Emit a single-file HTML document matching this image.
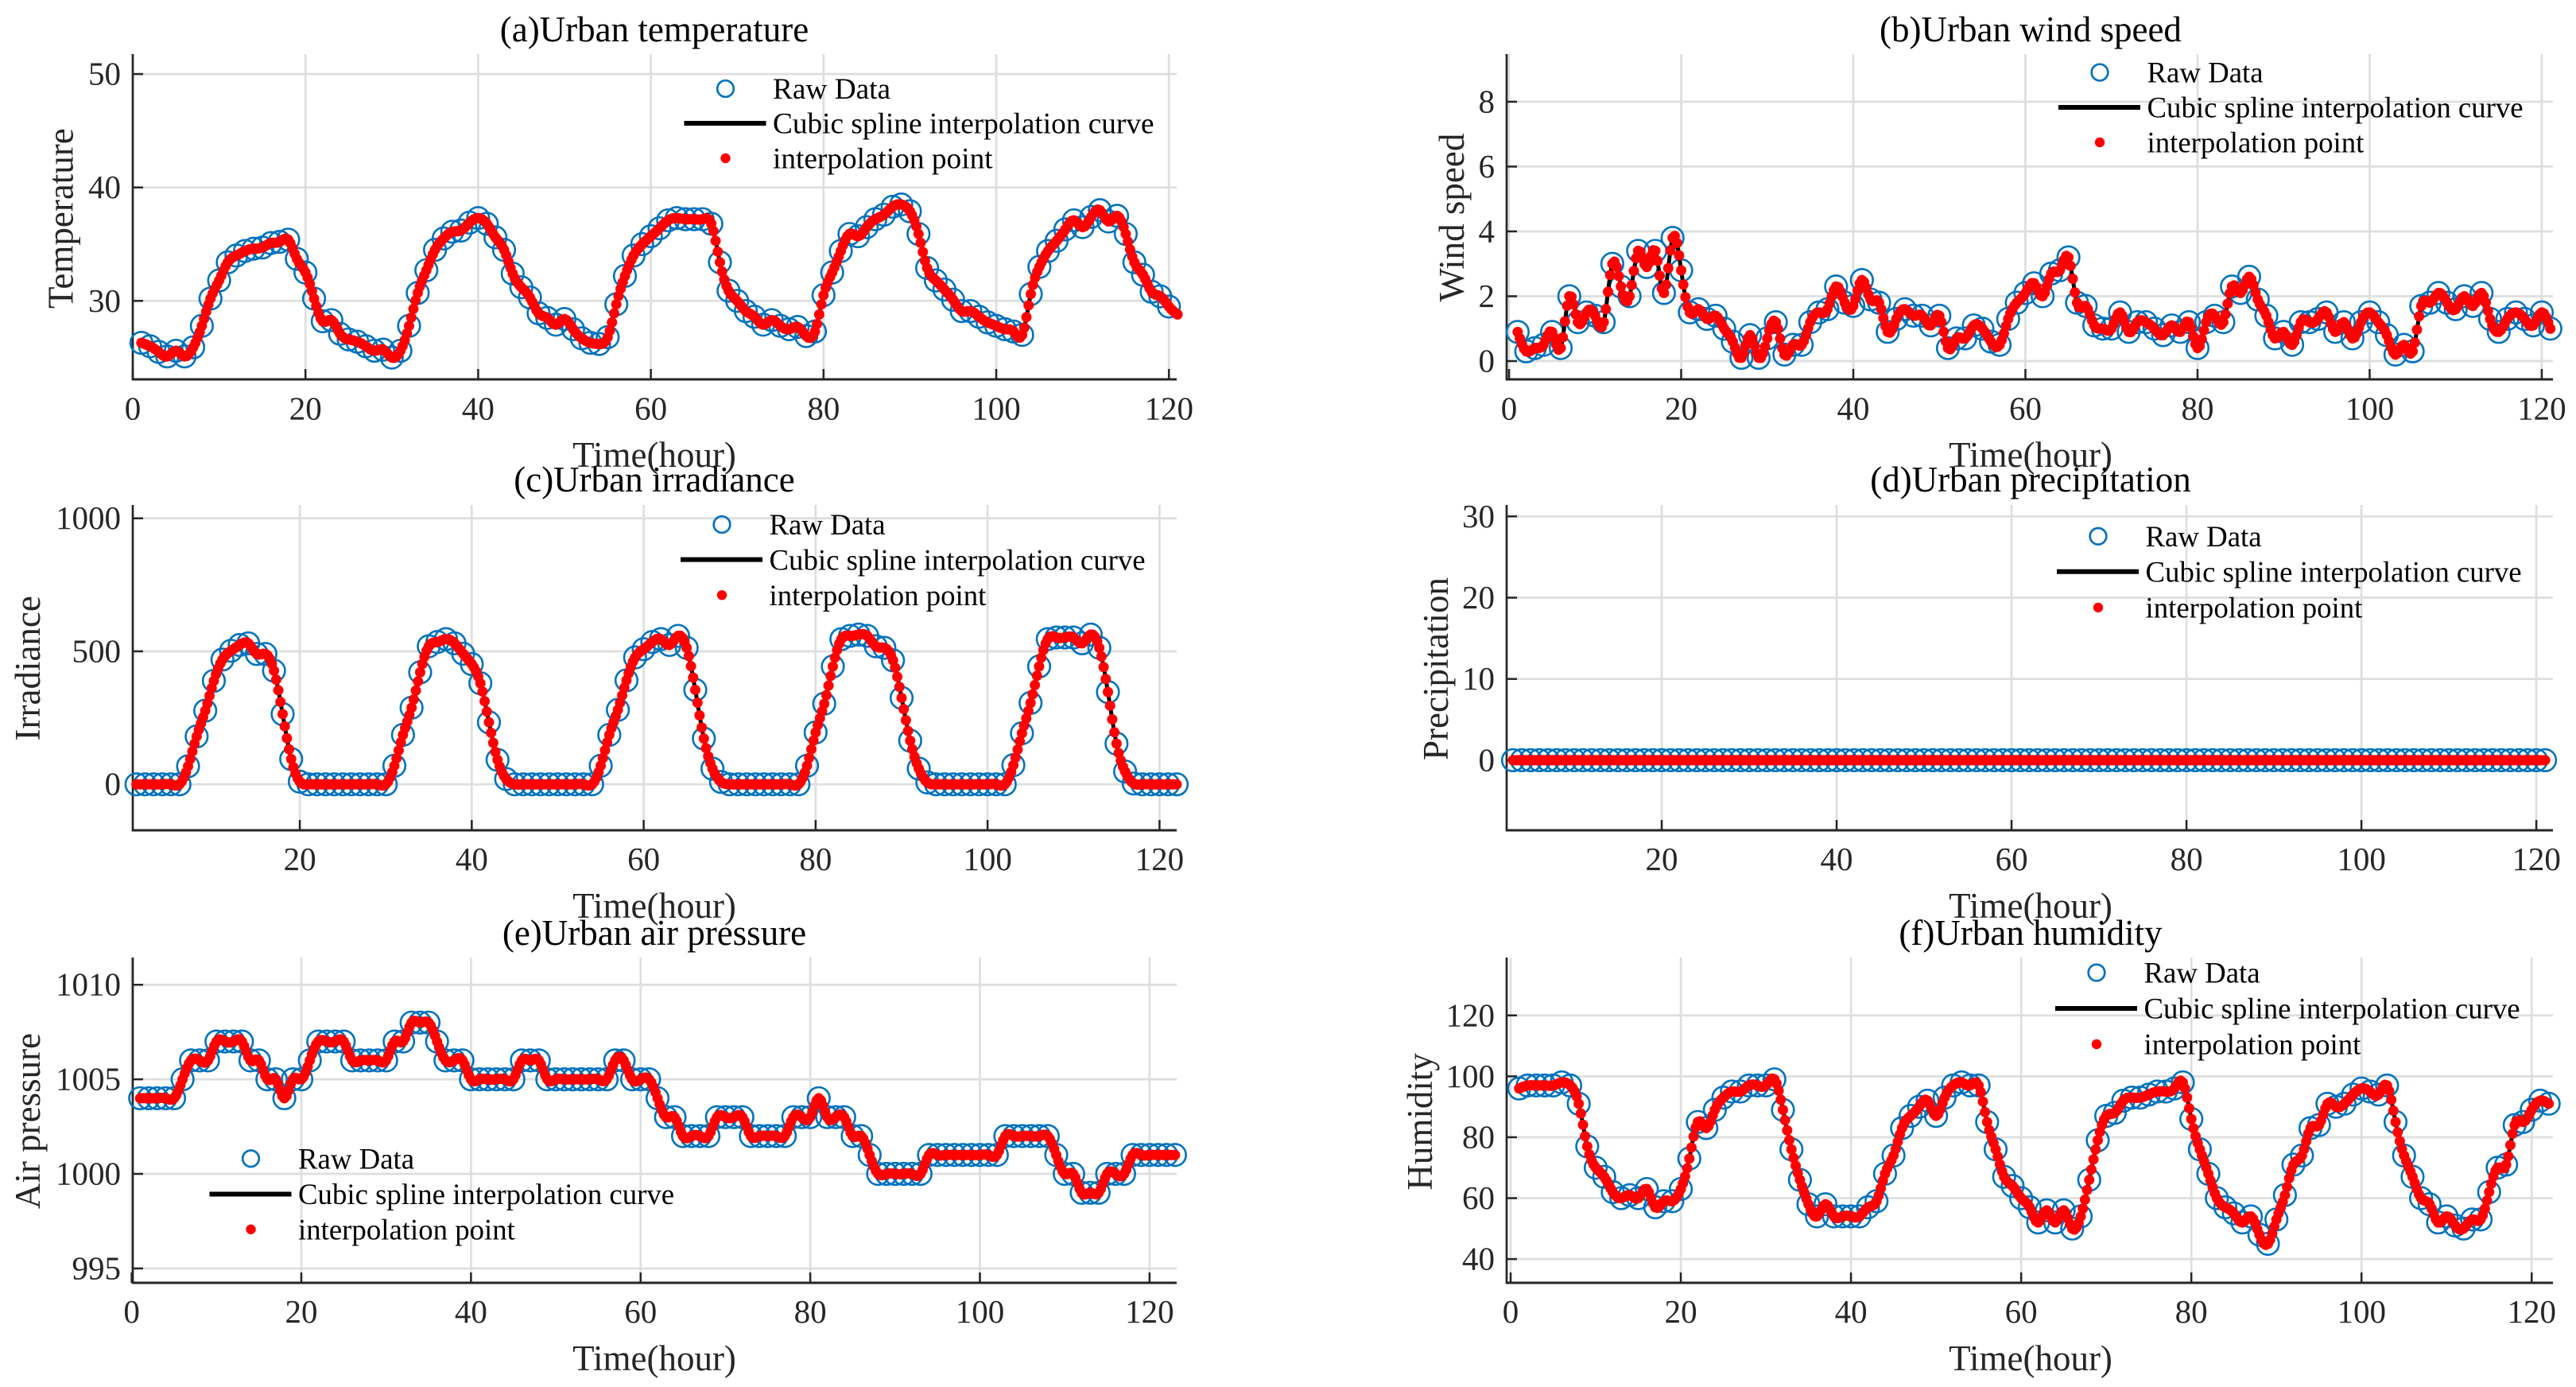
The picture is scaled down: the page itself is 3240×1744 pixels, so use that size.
<!DOCTYPE html>
<html lang="en">
<head>
<meta charset="utf-8">
<title>Urban weather cubic spline interpolation</title>
<style>
html,body{margin:0;padding:0;background:#fff;}
svg{display:block;font-family:"Liberation Serif",serif;}
</style>
</head>
<body>
<svg id="chart" xmlns="http://www.w3.org/2000/svg" width="3240" height="1744" viewBox="0 0 3240 1744"></svg>
<script>
const temperatureValues = [26.3,26.0,25.5,25.1,25.6,25.1,25.9,27.8,30.2,31.8,33.4,34,34.4,34.6,34.7,35.1,35.2,35.4,33.7,32.5,30.2,28.2,28.3,27.1,26.6,26.4,26,25.6,25.7,25,25.6,27.8,30.7,32.7,34.5,35.5,36.1,36.2,36.9,37.3,36.8,35.6,34.5,32.4,31.2,30.3,28.9,28.5,27.9,28.4,27.5,26.7,26.3,26.2,26.8,29.7,32.2,34,35,35.7,36.4,37.1,37.3,37.2,37.2,37.2,36.8,33.4,30.9,30,29.1,28.6,27.9,28.3,27.8,27.5,27.7,26.9,27.3,30.5,32.5,34.4,35.9,35.7,36.5,37.2,37.6,38.3,38.5,37.9,35.9,32.9,31.8,31,30.1,29.1,29.1,28.6,28.1,27.8,27.5,27.3,27,30.6,33,34.4,35.3,36.3,37.1,36.5,37.4,38,37,37.5,35.9,33.4,32.3,30.8,30.4,29.5,28.8];
const windValues = [0.9,0.3,0.4,0.5,0.9,0.4,2.0,1.2,1.5,1.4,1.2,3.0,2.3,2.0,3.4,2.9,3.4,2.1,3.8,2.8,1.5,1.6,1.3,1.4,1.0,0.6,0.1,0.8,0.1,0.7,1.2,0.2,0.5,0.5,1.2,1.5,1.6,2.3,1.8,1.7,2.5,1.9,1.8,0.9,1.3,1.6,1.4,1.4,1.1,1.4,0.4,0.7,0.7,1.1,1.0,0.6,0.5,1.3,1.8,2.1,2.4,2.0,2.7,2.8,3.2,1.8,1.7,1.1,1.0,1.0,1.5,0.9,1.2,1.2,1.0,0.8,1.1,0.9,1.2,0.4,1.2,1.4,1.2,2.3,2.1,2.6,1.9,1.4,0.7,0.9,0.5,1.2,1.2,1.3,1.5,0.9,1.2,0.7,1.2,1.5,1.2,0.8,0.2,0.5,0.3,1.7,1.8,2.1,1.8,1.6,2.0,1.7,2.1,1.3,0.9,1.3,1.5,1.3,1.1,1.5,1.0];
const irradianceValues = [0,0,0,0,0,0,68,180,277,389,469,502,524,530,490,490,427,264,95,10,0,0,0,0,0,0,0,0,0,0,70,186,288,421,519,535,546,530,491,452,380,233,92,20,0,0,0,0,0,0,0,0,0,0,70,186,280,391,477,508,535,546,524,558,513,355,172,59,9,0,0,0,0,0,0,0,0,0,70,195,303,443,546,558,563,558,519,513,466,325,164,59,7,0,0,0,0,0,0,0,0,0,72,192,306,443,546,552,552,552,530,563,513,347,153,48,3,0,0,0,0,0];
const precipitationValues = [0,0,0,0,0,0,0,0,0,0,0,0,0,0,0,0,0,0,0,0,0,0,0,0,0,0,0,0,0,0,0,0,0,0,0,0,0,0,0,0,0,0,0,0,0,0,0,0,0,0,0,0,0,0,0,0,0,0,0,0,0,0,0,0,0,0,0,0,0,0,0,0,0,0,0,0,0,0,0,0,0,0,0,0,0,0,0,0,0,0,0,0,0,0,0,0,0,0,0,0,0,0,0,0,0,0,0,0,0,0,0,0,0,0,0,0,0,0,0];
const pressureValues = [1004,1004,1004,1004,1004,1005,1006,1006,1006,1007,1007,1007,1007,1006,1006,1005,1005,1004,1005,1005,1006,1007,1007,1007,1007,1006,1006,1006,1006,1006,1007,1007,1008,1008,1008,1007,1006,1006,1006,1005,1005,1005,1005,1005,1005,1006,1006,1006,1005,1005,1005,1005,1005,1005,1005,1005,1006,1006,1005,1005,1005,1004,1003,1003,1002,1002,1002,1002,1003,1003,1003,1003,1002,1002,1002,1002,1002,1003,1003,1003,1004,1003,1003,1003,1002,1002,1001,1000,1000,1000,1000,1000,1000,1001,1001,1001,1001,1001,1001,1001,1001,1001,1002,1002,1002,1002,1002,1002,1001,1000,1000,999,999,999,1000,1000,1000,1001,1001,1001,1001,1001,1001];
const humidityValues = [96,97,97,97,97,98,97,91,77,70,67,62,60,61,60,63,57,59,59,63,73,85,83,89,93,95,95,97,97,97,99,89,76,66,58,54,58,54,54,54,54,57,59,68,74,83,87,90,92,87,93,97,98,97,97,85,76,67,64,60,57,52,56,52,56,50,54,66,79,87,88,92,93,93,94,95,95,96,98,86,76,68,60,57,55,52,54,48,45,53,61,71,74,83,84,91,90,91,94,96,95,94,97,85,74,67,60,58,52,54,51,50,53,53,62,70,71,84,85,89,92,91];

const hourTicksFromZero = [0,20,40,60,80,100,120];
const hourTicksFromTwenty = [20,40,60,80,100,120];
const temperatureTicks = [30,40,50];
const windTicks = [0,2,4,6,8];
const irradianceTicks = [0,500,1000];
const precipitationTicks = [0,10,20,30];
const pressureTicks = [995,1000,1005,1010];
const humidityTicks = [40,60,80,100,120];
const legendLabels = ["Raw Data","Cubic spline interpolation curve","interpolation point"];

const NS = "http://www.w3.org/2000/svg";
const root = document.getElementById("chart");

function make(parent, tag, attrs, text) {
  const el = document.createElementNS(NS, tag);
  for (const k in attrs) el.setAttribute(k, attrs[k]);
  if (text !== undefined) el.textContent = text;
  parent.appendChild(el);
  return el;
}

function splineCoefficients(xs, ys) {
  const n = xs.length;
  const a = new Array(n).fill(0), b = new Array(n).fill(1), c = new Array(n).fill(0), d = new Array(n).fill(0);
  for (let i = 1; i < n - 1; i++) {
    const h0 = xs[i] - xs[i - 1], h1 = xs[i + 1] - xs[i];
    a[i] = h0;
    b[i] = 2 * (h0 + h1);
    c[i] = h1;
    d[i] = 6 * ((ys[i + 1] - ys[i]) / h1 - (ys[i] - ys[i - 1]) / h0);
  }
  for (let i = 1; i < n; i++) {
    const m = a[i] / b[i - 1];
    b[i] -= m * c[i - 1];
    d[i] -= m * d[i - 1];
  }
  const s = new Array(n).fill(0);
  s[n - 1] = d[n - 1] / b[n - 1];
  for (let i = n - 2; i >= 0; i--) s[i] = (d[i] - c[i] * s[i + 1]) / b[i];
  return s;
}

function splineAt(xs, ys, s, x) {
  let i = Math.min(Math.floor(x - xs[0]), xs.length - 2);
  if (i < 0) i = 0;
  const h = xs[i + 1] - xs[i];
  const A = (xs[i + 1] - x) / h, B = (x - xs[i]) / h;
  return A * ys[i] + B * ys[i + 1] + ((A * A * A - A) * s[i] + (B * B * B - B) * s[i + 1]) * h * h / 6;
}

function drawPanel(p) {
  const g = make(root, "g", {});
  
  

  const xScale = v => p.left + (v - p.xlim[0]) / (p.xlim[1] - p.xlim[0]) * (p.right - p.left);
  const yScale = v => p.bottom - (v - p.ylim[0]) / (p.ylim[1] - p.ylim[0]) * (p.bottom - p.top);

  // grid
  const grid = make(g, "g", {stroke: "#dedede", fill: "none"});
  
  
  p.xTicks.forEach(t => make(grid, "line", {x1: xScale(t), x2: xScale(t), y1: p.top, y2: p.bottom, "stroke-width": 2.7}));
  p.yTicks.forEach(t => make(grid, "line", {x1: p.left, x2: p.right, y1: yScale(t), y2: yScale(t), "stroke-width": 2.7}));

  // axes and ticks
  const axes = make(g, "g", {stroke: "#262626", fill: "none"});
  
  
  make(axes, "line", {x1: p.left, x2: p.left, y1: p.top, y2: p.bottom + 1.5, "stroke-width": 2.7});
  make(axes, "line", {x1: p.left, x2: p.right, y1: p.bottom, y2: p.bottom, "stroke-width": 2.9});
  p.xTicks.forEach(t => make(axes, "line", {x1: xScale(t), x2: xScale(t), y1: p.bottom, y2: p.bottom - 13, "stroke-width": 2.5}));
  p.yTicks.forEach(t => make(axes, "line", {x1: p.left, x2: p.left + 13, y1: yScale(t), y2: yScale(t), "stroke-width": 2.5}));

  // tick labels
  const labels = make(g, "g", {fill: "#262626", "font-size": 41});
  
  
  p.xTicks.forEach(t => {
    const el = make(labels, "text", {x: xScale(t), y: p.xTickBase + 0.5, "text-anchor": "middle"}, String(t));
    
    
  });
  p.yTicks.forEach(t => {
    const el = make(labels, "text", {x: p.left - 15, y: yScale(t) + 13.5, "text-anchor": "end"}, String(t));
    
    
  });

  // series
  const xs = p.values.map((_, i) => p.xStart + i);
  const s = splineCoefficients(xs, p.values);
  const xEnd = xs[xs.length - 1];
  const rawCount = p.rawCount || p.values.length;

  const raw = make(g, "g", {fill: "none", stroke: "#0072bd", "stroke-width": 2.6});
  
  
  p.values.slice(0, rawCount).forEach((v, i) => {
    const c = make(raw, "circle", {cx: xScale(xs[i]).toFixed(2), cy: yScale(v).toFixed(2), r: 13.8});
    
    
  });

  let d = "";
  for (let x = p.xStart; x <= xEnd + 1e-9; x += 0.05) {
    d += (d ? "L" : "M") + xScale(x).toFixed(1) + " " + yScale(splineAt(xs, p.values, s, x)).toFixed(1);
  }
  const curve = make(g, "path", {d: d, fill: "none", stroke: "#000", "stroke-width": 5, "stroke-linejoin": "round"});
  
  

  const pts = make(g, "g", {fill: "#ff0000"});
  
  
  for (let x = p.xStart; x <= xEnd + 1e-9; x += 0.25) {
    const c = make(pts, "circle", {cx: xScale(x).toFixed(2), cy: yScale(splineAt(xs, p.values, s, x)).toFixed(2), r: 6.5});
    
    
  }

  // title and axis labels
  const title = make(g, "text", {x: p.cx, y: p.titleBase + 1, "text-anchor": "middle", "font-size": 45, fill: "#000"}, p.title);
  
  
  const xl = make(g, "text", {x: p.cx, y: p.xLabelBase + 1, "text-anchor": "middle", "font-size": 45, fill: "#262626"}, "Time(hour)");
  
  
  const yl = make(g, "text", {transform: "translate(" + p.yLabelX + "," + p.yLabelY + ") rotate(-90)", "text-anchor": "middle", "font-size": 45, fill: "#262626"}, p.yLabel);
  
  

  // legend
  const lg = make(g, "g", {"font-size": p.legFont, fill: "#000"});
  
  
  const mid = p.legX;
  const m0 = make(lg, "circle", {cx: mid, cy: p.legRows[0], r: 10.3, fill: "none", stroke: "#0072bd", "stroke-width": 2.7});
  
  
  const m1 = make(lg, "line", {x1: mid - 52, x2: mid + 51, y1: p.legRows[1], y2: p.legRows[1], stroke: "#000", "stroke-width": 6});
  
  
  const m2 = make(lg, "circle", {cx: mid, cy: p.legRows[2], r: 6.2, fill: "#ff0000"});
  
  
  legendLabels.forEach((t, i) => {
    const el = make(lg, "text", {x: mid + 59.5, y: p.legRows[i] + 12.7}, t);
    
    
  });
}

drawPanel({id:"temperature", title:"(a)Urban temperature", yLabel:"Temperature", values:temperatureValues, rawCount:120, xStart:1,
  left:167, right:1480, top:68, bottom:477, xlim:[0,120.9], ylim:[23.08,51.76], xTicks:hourTicksFromZero, yTicks:temperatureTicks,
  cx:823, titleBase:51, xLabelBase:586, xTickBase:527, yLabelX:91.5, yLabelY:274.6, legX:912.5, legFont:37.3, legRows:[111.5,155,199]});
drawPanel({id:"wind-speed", title:"(b)Urban wind speed", yLabel:"Wind speed", values:windValues, xStart:1,
  left:1895, right:3211, top:68, bottom:477, xlim:[-0.28,121.3], ylim:[-0.564,9.47], xTicks:hourTicksFromZero, yTicks:windTicks,
  cx:2554, titleBase:51, xLabelBase:586, xTickBase:527, yLabelX:1841, yLabelY:273.6, legX:2641, legFont:36.8, legRows:[91,135,179]});
drawPanel({id:"irradiance", title:"(c)Urban irradiance", yLabel:"Irradiance", values:irradianceValues, xStart:1,
  left:167, right:1480, top:635, bottom:1044, xlim:[0.57,122], ylim:[-172.8,1050], xTicks:hourTicksFromTwenty, yTicks:irradianceTicks,
  cx:823, titleBase:617, xLabelBase:1153, xTickBase:1093.5, yLabelX:50, yLabelY:840.3, legX:908, legFont:36.8, legRows:[659.5,703.6,748.3]});
drawPanel({id:"precipitation", title:"(d)Urban precipitation", yLabel:"Precipitation", values:precipitationValues, xStart:3,
  left:1895, right:3211, top:635, bottom:1044, xlim:[2.27,121.9], ylim:[-8.62,31.4], xTicks:hourTicksFromTwenty, yTicks:precipitationTicks,
  cx:2554, titleBase:617, xLabelBase:1153, xTickBase:1093.5, yLabelX:1821, yLabelY:841, legX:2639, legFont:36.8, legRows:[674.3,718.7,763.9]});
drawPanel({id:"air-pressure", title:"(e)Urban air pressure", yLabel:"Air pressure", values:pressureValues, xStart:1,
  left:167, right:1480, top:1204, bottom:1613, xlim:[0.13,123.2], ylim:[994.24,1011.44], xTicks:hourTicksFromZero, yTicks:pressureTicks,
  cx:823, titleBase:1187, xLabelBase:1722, xTickBase:1662.5, yLabelX:50, yLabelY:1409.5, legX:315.5, legFont:36.8, legRows:[1456.8,1501.5,1545.8]});
drawPanel({id:"humidity", title:"(f)Urban humidity", yLabel:"Humidity", values:humidityValues, xStart:1,
  left:1895, right:3211, top:1204, bottom:1613, xlim:[-0.47,122.5], ylim:[32.2,139], xTicks:hourTicksFromZero, yTicks:humidityTicks,
  cx:2554, titleBase:1187, xLabelBase:1722, xTickBase:1662.5, yLabelX:1801, yLabelY:1410.4, legX:2637, legFont:36.8, legRows:[1223,1268,1313]});
</script>
</body>
</html>
